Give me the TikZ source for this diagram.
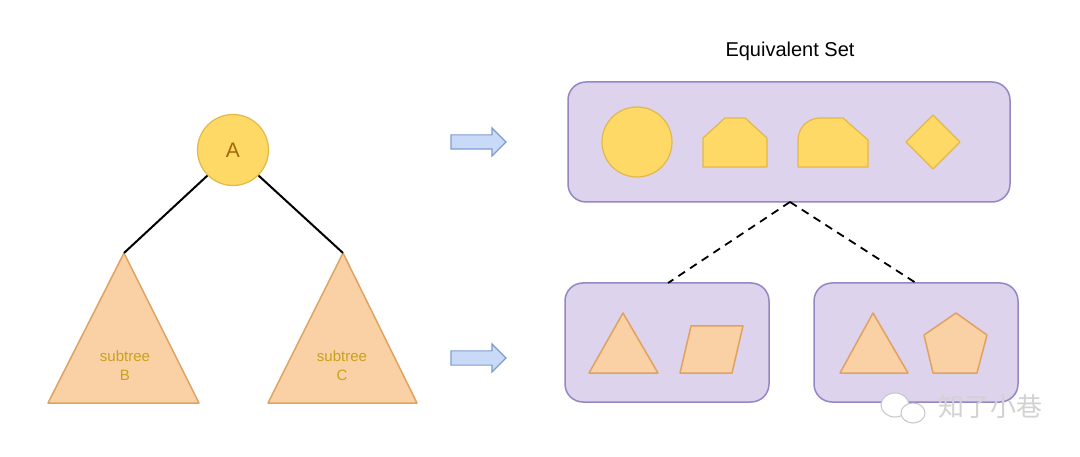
\documentclass[tikz,border=0pt]{standalone}
\usepackage{fontspec}
\setmainfont{Liberation Sans}
\newfontfamily\cjk{Noto Sans CJK SC}
\usetikzlibrary{shapes.arrows}
\definecolor{yfill}{HTML}{FFD966}
\definecolor{ydraw}{HTML}{E3B84A}
\definecolor{ofill}{HTML}{FAD0A5}
\definecolor{odraw}{HTML}{DFA260}
\definecolor{pfill}{HTML}{DDD3EC}
\definecolor{pdraw}{HTML}{9586C4}
\definecolor{bfill}{HTML}{C9DAF8}
\definecolor{bdraw}{HTML}{7F9CCF}
\definecolor{atext}{HTML}{A06A0A}
\definecolor{stext}{HTML}{C8A21E}
\tikzset{
  yshape/.style={fill=yfill,draw=ydraw,line width=1.2pt,line join=round},
  oshape/.style={fill=ofill,draw=odraw,line width=1.5pt,line join=round},
  pbox/.style={fill=pfill,draw=pdraw,line width=1.5pt,rounded corners=18pt},
  barrow/.style={single arrow,fill=bfill,draw=bdraw,line width=1.2pt,minimum height=55pt,inner sep=6.5pt,single arrow head extend=7pt,single arrow tip angle=90,single arrow head indent=0pt},
  treeline/.style={line width=2pt,black},
  dline/.style={line width=1.8pt,black,dash pattern=on 8pt off 6pt},
}
\begin{document}
\begin{tikzpicture}[x=1pt,y=-1pt]
\useasboundingbox[fill=white] (0,0) rectangle (1080,457);
% tree
\node[yshape,circle,minimum size=71pt,inner sep=0pt,font=\fontsize{21}{21}\selectfont,text=atext] (A) at (233,150) {A};
\draw[oshape] (124,253) coordinate (Btop) -- (199,403) -- (48,403) -- cycle;
\draw[oshape] (343,253) coordinate (Ctop) -- (417,403) -- (268,403) -- cycle;
\node[align=center,text=stext,font=\fontsize{15}{19}\selectfont] (Blab) at (125,366) {subtree\\B};
\node[align=center,text=stext,font=\fontsize{15}{19}\selectfont] (Clab) at (342,366) {subtree\\C};
\draw[treeline] (A.225) -- (Btop);
\draw[treeline] (A.-45) -- (Ctop);
% arrows
\node[barrow] (ar1) at (475,142) {};
\node[barrow] (ar2) at (475,358) {};
% title
\node[font=\fontsize{20}{20}\selectfont] (title) at (790,51) {Equivalent Set};
% boxes
\draw[pbox] (568,82) rectangle (1010,202);
\coordinate (topmid) at (790,202);
\draw[pbox] (565,283) rectangle (769,402);
\draw[pbox] (814,283) rectangle (1018,402);
\coordinate (lefttop) at (668,283);
\coordinate (righttop) at (916,283);
\draw[dline] (topmid) -- (lefttop);
\draw[dline] (topmid) -- (righttop);
% top shapes
\node[yshape,circle,minimum size=70pt,inner sep=0pt] (s1) at (637,142) {};
\draw[yshape] (703,167) -- (703,138) -- (725,118) -- (745,118) -- (767,138) -- (767,167) -- cycle;
\draw[yshape] (798,167) -- (798,140) arc[start angle=180,end angle=270,radius=22] -- (843,118) -- (868,140) -- (868,167) -- cycle;
\draw[yshape] (933,115) -- (960,142) -- (933,169) -- (906,142) -- cycle;
% bottom shapes
\draw[oshape] (623,313) -- (658,373) -- (589,373) -- cycle;
\draw[oshape] (680,373) -- (691,326) -- (743,326) -- (732,373) -- cycle;
\draw[oshape] (873,313) -- (908,373) -- (840,373) -- cycle;
\draw[oshape] (956,313) -- (987,335) -- (977,373) -- (933,373) -- (924,335) -- cycle;
% watermark
\draw[fill=white,draw=gray!45,line width=1pt] (895,405) ellipse[x radius=14,y radius=12];
\draw[fill=white,draw=gray!45,line width=1pt] (913,413) ellipse[x radius=12,y radius=10];
\node[text=gray!35,font=\cjk\fontsize{26}{26}\selectfont] (wm) at (990,407) {知了小巷};
\end{tikzpicture}
\end{document}
